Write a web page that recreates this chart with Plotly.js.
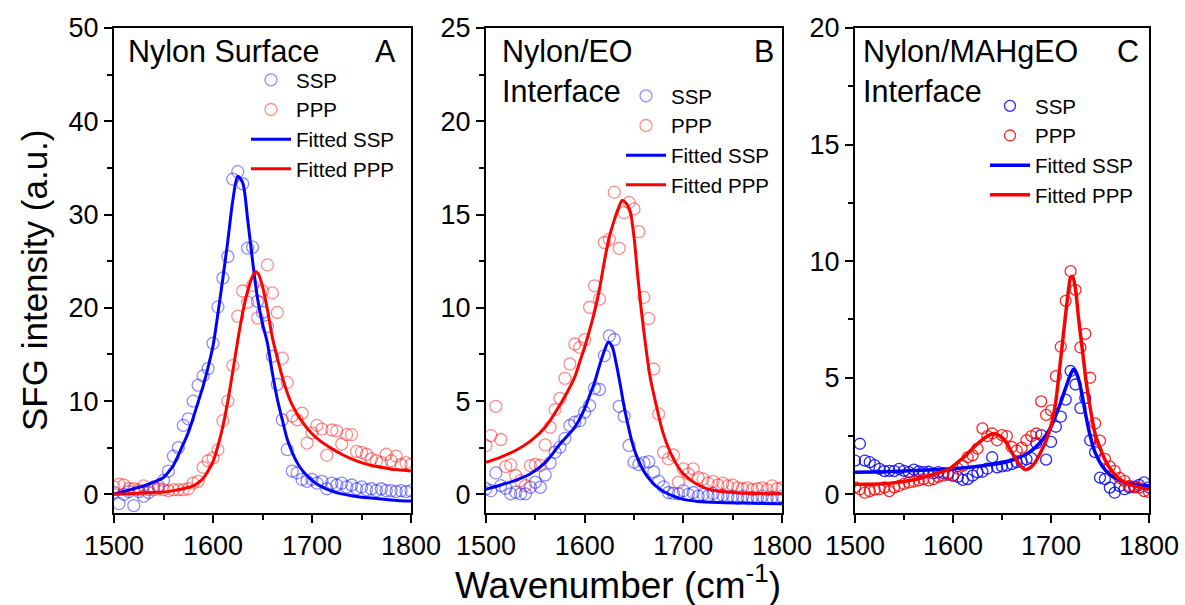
<!DOCTYPE html>
<html>
<head>
<meta charset="utf-8">
<script src="https://cdn.plot.ly/plotly-3.0.1.min.js"></script>
<style>html,body{margin:0;padding:0;background:#fff;}#chart{width:1185px;height:605px;}</style>
</head>
<body>
<div id="chart"></div>
<script>
// ---------- data ----------
const wn = [1500,1505,1510,1515,1520,1525,1530,1535,1540,1545,1550,1555,1560,1565,1570,1575,1580,1585,1590,1595,1600,1605,1610,1615,1620,1625,1630,1635,1640,1645,1650,1655,1660,1665,1670,1675,1680,1685,1690,1695,1700,1705,1710,1715,1720,1725,1730,1735,1740,1745,1750,1755,1760,1765,1770,1775,1780,1785,1790,1795,1800];

// Panel A: Nylon Surface
const sspA = [0.2,-1.0,0.0,0.3,-1.2,0.3,-0.2,0.2,0.8,0.9,1.5,2.5,4.1,5.0,7.4,8.1,10.0,11.7,12.7,13.5,16.2,20.1,23.2,25.5,33.8,34.6,33.3,26.4,26.5,20.7,19.5,18.0,14.8,11.8,8.0,4.8,2.5,2.3,1.6,1.4,1.6,1.2,1.4,0.6,1.2,1.0,1.2,0.8,1.0,0.6,0.8,0.5,0.6,0.4,0.6,0.4,0.4,0.3,0.4,0.3,0.4];
const pppA = [0.8,1.1,1.0,0.6,0.6,0.5,0.9,0.5,0.5,0.6,0.5,0.4,0.5,0.5,0.5,0.6,1.2,1.4,2.9,3.6,3.9,4.8,7.9,10.0,13.8,19.1,21.8,20.6,22.4,18.9,21.8,24.6,21.6,19.5,14.6,12.0,8.4,8.0,8.7,5.5,6.6,7.4,7.0,4.2,6.9,6.8,5.4,6.4,6.4,4.6,4.5,4.3,3.8,3.6,3.4,4.3,3.6,4.1,3.2,3.4,3.2];
const fitSspA_x = [1500,1510,1520,1530,1540,1550,1555,1560,1565,1570,1575,1580,1585,1590,1595,1600,1605,1610,1615,1620,1625,1630,1635,1640,1645,1650,1655,1660,1665,1670,1675,1680,1685,1690,1700,1710,1720,1730,1740,1750,1760,1770,1780,1790,1800];
const fitSspA_y = [0.0,0.3,0.6,0.9,1.3,1.8,2.4,3.1,4.2,5.4,6.6,8.2,9.9,11.6,13.6,15.9,19.4,23.2,27.2,31.5,34.1,33.4,29.5,25.0,21.0,18.3,16.2,13.0,10.2,8.0,5.9,4.5,3.4,2.6,1.5,0.8,0.35,0.05,-0.15,-0.3,-0.4,-0.5,-0.6,-0.68,-0.72];
const fitPppA_x = [1500,1510,1520,1530,1540,1550,1560,1570,1580,1585,1590,1595,1600,1605,1610,1615,1620,1625,1630,1635,1640,1643,1646,1650,1655,1660,1665,1670,1675,1680,1690,1700,1710,1720,1730,1740,1750,1760,1770,1780,1790,1800];
const fitPppA_y = [0.0,0.05,0.1,0.15,0.2,0.25,0.4,0.6,0.9,1.25,1.7,2.5,3.5,5.2,7.3,10.0,13.2,16.5,19.5,21.8,23.4,23.9,23.6,22.3,19.8,16.8,14.6,12.6,10.9,9.6,7.8,6.5,5.6,4.9,4.3,3.8,3.4,3.1,2.9,2.7,2.6,2.5];

// Panel B: Nylon/EO Interface
const sspB = [0.3,0.2,1.15,0.47,0.33,0.03,0.12,0.03,0.03,0.38,0.65,0.38,1.04,1.69,2.26,2.53,3.0,3.69,3.87,3.95,4.4,4.76,5.69,5.62,7.44,8.5,8.3,4.72,4.19,2.62,1.73,1.6,1.7,1.75,1.2,0.7,0.4,0.1,0.05,0.03,0.2,0.0,0.1,-0.1,0.0,-0.1,0.05,-0.1,-0.05,-0.15,-0.1,-0.2,-0.1,-0.2,-0.15,-0.2,-0.1,-0.2,-0.15,-0.2,-0.1];
const pppB = [2.61,3.15,4.72,2.94,1.49,1.58,1.01,0.74,0.47,1.54,1.6,1.55,2.65,3.6,4.54,5.15,6.22,6.99,8.06,7.88,8.29,10.03,11.18,10.47,13.5,13.68,16.2,13.19,15.1,15.65,15.3,14.08,10.56,9.43,6.72,4.31,2.26,1.9,2.11,0.65,1.37,1.1,1.37,0.9,0.83,0.6,0.7,0.5,0.6,0.45,0.5,0.35,0.3,0.35,0.25,0.3,0.35,0.25,0.45,0.3,0.35];
const fitSspB_x = [1500,1515,1530,1545,1560,1575,1590,1600,1605,1610,1615,1620,1624,1628,1632,1636,1640,1644,1648,1652,1656,1661,1666,1672,1680,1690,1700,1715,1735,1760,1800];
const fitSspB_y = [0.27,0.5,0.75,1.1,1.7,2.7,3.6,4.6,5.3,6.0,6.9,7.7,8.15,7.9,7.0,5.9,4.7,3.7,2.8,2.15,1.65,1.15,0.8,0.45,0.15,-0.1,-0.27,-0.38,-0.44,-0.47,-0.5];
const fitPppB_x = [1500,1515,1530,1545,1560,1575,1590,1595,1600,1605,1610,1615,1620,1625,1630,1634,1638,1642,1646,1650,1654,1658,1662,1666,1672,1680,1690,1700,1715,1730,1750,1775,1800];
const fitPppB_y = [1.72,2.0,2.35,2.85,3.6,4.8,6.3,7.1,7.9,8.8,9.8,11.0,12.5,13.8,14.7,15.3,15.75,15.6,15.2,13.8,11.6,9.6,7.9,6.4,4.9,3.2,1.9,1.1,0.5,0.22,0.1,0.05,0.03];

// Panel C: Nylon/MAHgEO Interface
const sspC = [1.45,2.17,1.45,1.38,1.25,1.09,1.0,1.01,1.0,1.09,1.01,0.95,1.06,0.98,0.95,0.97,0.9,0.95,0.91,0.85,0.8,0.75,0.62,0.65,0.8,0.94,0.97,1.1,1.59,1.16,1.2,1.23,1.3,1.38,1.4,1.5,1.55,2.2,2.54,1.49,2.25,2.9,3.33,4.06,5.29,4.71,3.7,4.13,2.32,1.81,0.72,0.65,0.29,0.07,0.35,0.22,0.3,0.33,0.4,0.51,0.3];
const pppC = [0.3,0.22,0.07,0.14,0.2,0.22,0.3,0.14,0.3,0.36,0.45,0.51,0.55,0.6,0.65,0.6,0.65,0.75,0.8,0.9,0.8,1.1,1.23,1.59,1.67,1.96,2.83,2.5,2.61,2.32,2.54,2.5,2.03,1.88,2.0,2.32,2.5,2.61,3.99,3.41,3.6,5.07,6.33,8.3,9.57,8.77,6.3,6.88,5.0,3.04,2.3,1.52,1.2,1.01,0.7,0.58,0.36,0.3,0.29,0.14,0.1];
const fitSspC_x = [1500,1530,1560,1600,1630,1657,1678,1691,1700,1705,1710,1715,1720,1723,1726,1729,1732,1735,1740,1745,1752,1760,1770,1783,1800];
const fitSspC_y = [0.95,0.97,1.02,1.1,1.23,1.42,1.81,2.32,2.9,3.4,3.95,4.57,5.15,5.36,5.2,4.8,4.2,3.5,2.5,1.8,1.23,0.85,0.6,0.43,0.36];
const fitPppC_x = [1500,1530,1560,1580,1596,1605,1613,1622,1630,1636,1642,1648,1654,1660,1664,1669,1674,1679,1684,1690,1695,1701,1705,1708,1712,1715,1718,1720,1722,1725,1728,1732,1736,1740,1745,1750,1756,1763,1770,1780,1790,1800];
const fitPppC_y = [0.43,0.45,0.62,0.85,1.09,1.38,1.67,2.05,2.35,2.52,2.61,2.5,2.25,1.8,1.52,1.22,1.06,1.15,1.38,1.85,2.3,3.1,4.0,5.1,6.6,7.75,8.8,9.3,9.35,8.8,7.6,6.2,4.8,3.7,2.6,2.0,1.4,0.95,0.65,0.43,0.3,0.22];

const legendNames = ["SSP","PPP","Fitted SSP","Fitted PPP"];
const panelLabels = ["A","B","C"];
const panelTitles = ["Nylon Surface","Nylon/EO<br>Interface","Nylon/MAHgEO<br>Interface"];

// ---------- styling ----------
const FONT = "Liberation Sans, Arial, Helvetica, sans-serif";
const W = 1185, H = 605;
const px = v => v / W;
const py = v => 1 - v / H;

const panels = [
  {ssp: sspA, ppp: pppA, fsx: fitSspA_x, fsy: fitSspA_y, fpx: fitPppA_x, fpy: fitPppA_y,
   dom: [114, 411], yr: [-2, 50], dt: 10, mdt: 5, mcol: ["rgba(0,0,255,0.45)", "rgba(255,0,0,0.45)"], lw: 3, ms: 12,
   leg: [246, 60], ttl: [126, 51], lab: 398},
  {ssp: sspB, ppp: pppB, fsx: fitSspB_x, fsy: fitSspB_y, fpx: fitPppB_x, fpy: fitPppB_y,
   dom: [486, 782], yr: [-1, 25], dt: 5, mdt: 2.5, mcol: ["rgba(0,0,255,0.45)", "rgba(255,0,0,0.45)"], lw: 3, ms: 12,
   leg: [621, 76], ttl: [500, 71], lab: 776},
  {ssp: sspC, ppp: pppC, fsx: fitSspC_x, fsy: fitSspC_y, fpx: fitPppC_x, fpy: fitPppC_y,
   dom: [855, 1149], yr: [-0.8, 20], dt: 5, mdt: 2.5, mcol: ["rgba(0,0,255,0.85)", "rgba(255,0,0,0.85)"], lw: 3.5, ms: 11,
   leg: [985, 86], ttl: [861, 71], lab: 1141}
];

const traces = [];
const layout = {
  width: W, height: H,
  margin: {l: 0, r: 0, t: 0, b: 0},
  paper_bgcolor: "#fff", plot_bgcolor: "#fff",
  font: {family: FONT, color: "#000", size: 21},
  annotations: [],
  showlegend: true
};

panels.forEach((p, i) => {
  const n = i === 0 ? "" : String(i + 1);
  const xa = "x" + n, ya = "y" + n;
  const leg = "legend" + n;
  traces.push({x: wn, y: p.ssp, xaxis: xa, yaxis: ya, legend: leg, name: legendNames[0], type: "scatter", mode: "markers",
    marker: {symbol: "circle-open", size: p.ms, color: p.mcol[0], line: {width: 1.3, color: p.mcol[0]}}});
  traces.push({x: wn, y: p.ppp, xaxis: xa, yaxis: ya, legend: leg, name: legendNames[1], type: "scatter", mode: "markers",
    marker: {symbol: "circle-open", size: p.ms, color: p.mcol[1], line: {width: 1.3, color: p.mcol[1]}}});
  traces.push({x: p.fsx, y: p.fsy, xaxis: xa, yaxis: ya, legend: leg, name: legendNames[2], type: "scatter", mode: "lines",
    line: {color: "#0000ff", width: p.lw, shape: "spline", smoothing: 0.8}});
  traces.push({x: p.fpx, y: p.fpy, xaxis: xa, yaxis: ya, legend: leg, name: legendNames[3], type: "scatter", mode: "lines",
    line: {color: "#ff0000", width: p.lw, shape: "spline", smoothing: 0.8}});

  const common = {showline: true, mirror: true, linewidth: 2, linecolor: "#000", showgrid: false, zeroline: false,
    ticks: "outside", ticklen: 8, tickwidth: 2, tickcolor: "#000", tickfont: {family: FONT, size: 27, color: "#000"}, fixedrange: true};
  layout["xaxis" + n] = Object.assign({}, common, {
    domain: [px(p.dom[0]), px(p.dom[1])], anchor: ya, range: [1500, 1800], tick0: 1500, dtick: 100,
    minor: {ticks: "outside", ticklen: 5, tickwidth: 2, tickcolor: "#000", tick0: 1500, dtick: 50, showgrid: false}
  });
  layout["yaxis" + n] = Object.assign({}, common, {
    domain: [py(513), py(28)], anchor: xa, range: p.yr, tick0: 0, dtick: p.dt,
    minor: {ticks: "outside", ticklen: 5, tickwidth: 2, tickcolor: "#000", tick0: 0, dtick: p.mdt, showgrid: false}
  });
  layout[leg] = {x: px(p.leg[0]), y: py(p.leg[1]), xanchor: "left", yanchor: "top", bgcolor: "rgba(0,0,0,0)",
    borderwidth: 0, font: {family: FONT, size: 20.5, color: "#000"}, itemwidth: 40, tracegroupgap: 0};

  layout.annotations.push({xref: "paper", yref: "paper", x: px(p.ttl[0]), y: py(p.ttl[1]), xanchor: "left", yanchor: "middle",
    align: "left", showarrow: false, text: panelTitles[i], font: {family: FONT, size: 30.5, color: "#000"}});
  layout.annotations.push({xref: "paper", yref: "paper", x: px(p.lab), y: py(51), xanchor: "right", yanchor: "middle",
    showarrow: false, text: panelLabels[i], font: {family: FONT, size: 30.5, color: "#000"}});
});

layout.annotations.push({xref: "paper", yref: "paper", x: px(34), y: py(281), xanchor: "center", yanchor: "middle",
  textangle: -90, showarrow: false, text: "SFG intensity (a.u.)", font: {family: FONT, size: 35, color: "#000"}});
layout.annotations.push({xref: "paper", yref: "paper", x: px(618), y: py(582), xanchor: "center", yanchor: "middle",
  showarrow: false, text: "Wavenumber (cm<sup>-1</sup>)", font: {family: FONT, size: 37, color: "#000"}});

Plotly.newPlot("chart", traces, layout, {displayModeBar: false, staticPlot: true});
</script>
</body>
</html>
